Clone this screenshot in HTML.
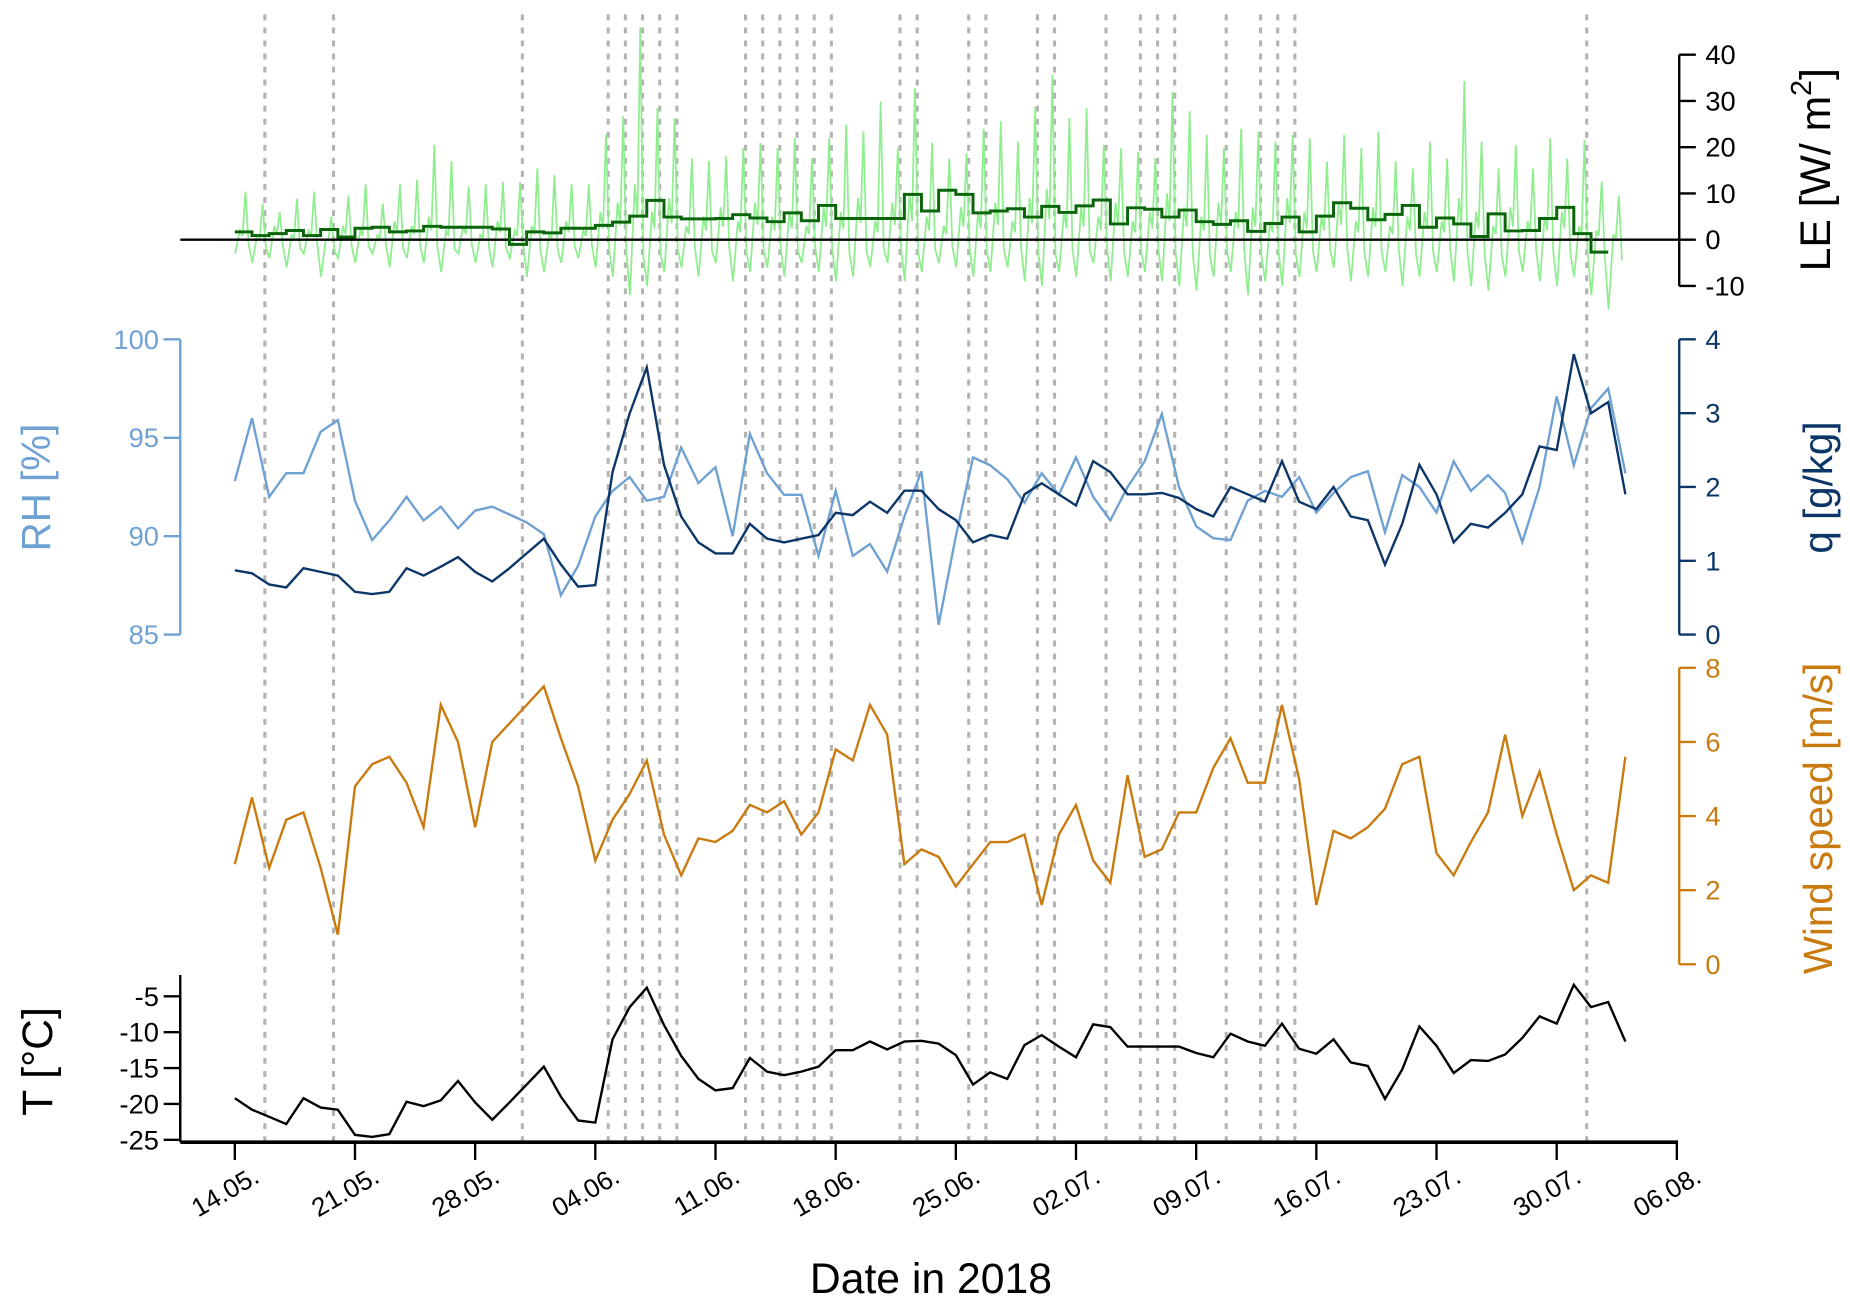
<!DOCTYPE html>
<html><head><meta charset="utf-8">
<style>
html,body{margin:0;padding:0;background:#fff;}
svg{display:block;font-family:"Liberation Sans",Arial,sans-serif;}
</style></head>
<body>
<svg id="chart" width="1850" height="1306" viewBox="0 0 1560 1101" xmlns="http://www.w3.org/2000/svg">
<g id="events"></g>
<g id="lePanel"></g>
<g id="rhPanel"></g>
<g id="wsPanel"></g>
<g id="tPanel"></g>
<g id="xAxis"></g>
<text x="785" y="1090" font-size="36" text-anchor="middle">Date in 2018</text>
<text transform="translate(1543,143) rotate(-90)" font-size="36" text-anchor="middle">LE [W/ m<tspan dy="-16" font-size="24">2</tspan><tspan dy="16">]</tspan></text>
<text transform="translate(42,411) rotate(-90)" font-size="34" fill="#6fa1d3" text-anchor="middle">RH [%]</text>
<text transform="translate(1545,411) rotate(-90)" font-size="34" fill="#0c3668" text-anchor="middle">q [g/kg]</text>
<text transform="translate(1545,690) rotate(-90)" font-size="34" fill="#c97b10" text-anchor="middle">Wind speed [m/s]</text>
<text transform="translate(44,895) rotate(-90)" font-size="36" text-anchor="middle">T [°C]</text>
</svg>
<script>
const dateLabels=["14.05.","21.05.","28.05.","04.06.","11.06.","18.06.","25.06.","02.07.","09.07.","16.07.","23.07.","30.07.","06.08."];
const eventDays=[2,6,17,22,23,24,25,26,30,31,32,33,34,35,39,40,43,44,47,48,51,53,54,55,58,60,61,62,79];
const rh=[92.8,96,92,93.2,93.2,95.3,95.9,91.8,89.8,90.8,92,90.8,91.5,90.4,91.3,91.5,91.1,90.7,90.1,87,88.5,91,92.3,93,91.8,92,94.5,92.7,93.5,90,95.2,93.2,92.1,92.1,89,92.3,89,89.6,88.2,91,93.3,85.5,90,94,93.6,92.9,91.7,93.2,92.1,94,92,90.8,92.5,93.8,96.2,92.5,90.5,89.9,89.8,91.8,92.3,92,93,91.2,92.2,93,93.3,90.2,93.1,92.5,91.2,93.8,92.3,93.1,92.2,89.7,92.5,97.1,93.6,96.5,97.5,93.2];
const q=[0.87,0.83,0.68,0.64,0.9,0.85,0.8,0.58,0.55,0.58,0.9,0.8,0.92,1.05,0.85,0.72,0.9,1.1,1.3,0.95,0.65,0.67,2.2,3.0,3.62,2.3,1.6,1.25,1.1,1.1,1.5,1.3,1.25,1.3,1.35,1.65,1.62,1.8,1.65,1.95,1.95,1.7,1.55,1.25,1.35,1.3,1.9,2.05,1.9,1.75,2.35,2.2,1.9,1.9,1.92,1.85,1.7,1.6,2.0,1.9,1.8,2.35,1.8,1.7,2.0,1.6,1.55,0.95,1.5,2.3,1.9,1.25,1.5,1.45,1.65,1.9,2.55,2.5,3.8,3.0,3.15,1.9];
const wind=[2.7,4.5,2.6,3.9,4.1,2.6,0.8,4.8,5.4,5.6,4.9,3.7,7.0,6.0,3.7,6.0,6.5,7.0,7.5,6.1,4.8,2.8,3.9,4.6,5.5,3.5,2.4,3.4,3.3,3.6,4.3,4.1,4.4,3.5,4.1,5.8,5.5,7.0,6.2,2.7,3.1,2.9,2.1,2.7,3.3,3.3,3.5,1.6,3.5,4.3,2.8,2.2,5.1,2.9,3.1,4.1,4.1,5.3,6.1,4.9,4.9,7.0,5.0,1.6,3.6,3.4,3.7,4.2,5.4,5.6,3.0,2.4,3.3,4.1,6.2,4.0,5.2,3.5,2.0,2.4,2.2,5.6];
const temp=[-19.2,-20.8,-21.8,-22.8,-19.2,-20.5,-20.8,-24.3,-24.6,-24.2,-19.7,-20.3,-19.5,-16.8,-19.8,-22.2,-19.8,-17.3,-14.8,-19,-22.3,-22.6,-11,-6.5,-3.8,-9,-13.3,-16.5,-18.1,-17.8,-13.6,-15.5,-16,-15.5,-14.8,-12.5,-12.5,-11.3,-12.4,-11.3,-11.2,-11.6,-13.2,-17.3,-15.6,-16.5,-11.8,-10.4,-12,-13.5,-8.9,-9.3,-12,-12,-12,-12,-12.9,-13.5,-10.2,-11.3,-11.9,-8.8,-12.3,-13,-11,-14.2,-14.7,-19.3,-15.2,-9.2,-11.9,-15.7,-13.9,-14,-13.1,-10.8,-7.8,-8.8,-3.4,-6.5,-5.8,-11.3];
const leDaily=[1.7,0.9,1.3,2,0.9,2.2,0.6,2.5,2.7,1.7,1.9,2.9,2.7,2.7,2.7,2.3,-1,1.7,1.5,2.5,2.5,3.1,3.8,5.1,8.5,4.9,4.5,4.5,4.6,5.4,4.7,3.9,5.8,4.1,7.4,4.6,4.6,4.6,4.6,9.8,6.2,10.7,9.8,5.8,6.2,6.7,4.9,7.2,5.9,7.3,8.6,3.4,6.9,6.6,4.9,6.4,3.9,3.3,4.1,1.8,3.5,4.9,1.7,5.1,8,6.8,4.3,5.5,7.4,2.7,4.7,3.4,0.7,5.6,1.9,2,4.6,7,1.3,-2.7];
const lePeak=[10.4,7.8,6,8.9,10.4,5,9.6,12,7.8,12,13,20.5,17,11.5,12,12.5,12.5,15.4,14,12,12,22.7,26.7,45.9,28.5,26.3,17.6,17,18,19.8,20.9,19.8,22,17.6,22,24.9,23.4,29.9,19.8,32.8,21,17.6,18.7,24,25.6,21.2,28.8,35.7,26.3,28.5,20.5,19.8,19,17.6,32,27.8,22.7,19.8,24,23.4,21.2,22.7,22,16.9,22.7,19.8,23.4,16.9,15.4,21.2,17.6,34.3,21.2,15.4,20.5,15.4,22,17.6,21.6,12.5,9.6];
const leMid=[2,1,3,1,2,0,3,2,1,4,3,5,2,3,1,4,2,3,1,4,2,6,8,12,6,9,3,5,7,4,8,5,6,3,7,6,9,4,8,10,5,3,7,6,8,4,9,11,6,7,5,8,4,6,10,7,5,8,6,7,4,9,6,5,8,4,7,3,5,6,4,9,6,3,7,4,5,6,3,2,1];
const leTrough=[-3,-5,-4,-6,-3,-8,-4,-5,-3,-6,-4,-5,-7,-3,-5,-6,-4,-8,-7,-5,-4,-6,-8,-12,-10,-7,-6,-8,-5,-9,-7,-6,-8,-5,-7,-9,-8,-6,-5,-9,-7,-5,-6,-8,-7,-6,-9,-10,-7,-8,-5,-9,-8,-7,-9,-10,-11,-8,-7,-12,-9,-10,-8,-7,-6,-9,-8,-7,-10,-8,-7,-9,-10,-11,-8,-7,-9,-10,-8,-12,-15];

const NS='http://www.w3.org/2000/svg';
const X0=198, DAY=(1414-198)/84;
const xOf=d=>X0+d*DAY;
const yLE=v=>202-v*3.9;
const yRH=v=>535-(v-85)*(249/15);
const yQ=v=>535-v*(249/4);
const yW=v=>813-v*(250/8);
const yT=v=>961+(v+25)*(-121/20);
function el(tag,attrs,parent){const e=document.createElementNS(NS,tag);for(const k in attrs)e.setAttribute(k,attrs[k]);parent.appendChild(e);return e;}
function pts(arr,yf,off){return arr.map((v,i)=>xOf(i+(off||0)).toFixed(1)+','+yf(v).toFixed(1)).join(' ');}

// events
const ev=document.getElementById('events');
eventDays.forEach(d=>{
  const l=el('line',{x1:xOf(d-0.25),x2:xOf(d-0.25),y1:12,y2:963,stroke:'#b3b3b3','stroke-width':2.6,'stroke-dasharray':'5 6'},ev);
  
  
});

// LE panel
const le=document.getElementById('lePanel');
let lp=[];
for(let i=0;i<lePeak.length;i++){
  lp.push(xOf(i+0.02).toFixed(1)+','+yLE(leTrough[i]).toFixed(1));
  lp.push(xOf(i+0.3).toFixed(1)+','+yLE(leMid[i]).toFixed(1));
  lp.push(xOf(i+0.45).toFixed(1)+','+yLE(leMid[i]*0.4).toFixed(1));
  lp.push(xOf(i+0.62).toFixed(1)+','+yLE(lePeak[i]).toFixed(1));
  lp.push(xOf(i+0.8).toFixed(1)+','+yLE(leTrough[i]*0.3).toFixed(1));
}
const leLine=el('polyline',{points:lp.join(' '),fill:'none',stroke:'#90ee90','stroke-width':1.5},le);


const zl=el('line',{x1:152,x2:1416,y1:yLE(0),y2:yLE(0),stroke:'#000','stroke-width':2},le);


let sp=[];
leDaily.forEach((v,i)=>{sp.push(xOf(i).toFixed(1)+','+yLE(v).toFixed(1));sp.push(xOf(i+1).toFixed(1)+','+yLE(v).toFixed(1));});
const step=el('polyline',{points:sp.join(' '),fill:'none',stroke:'#0a640a','stroke-width':2.5},le);



function axis(parent,x,ticks,yf,color,side,name){
  const g=el('g',{},parent);
  
  
  el('line',{x1:x,x2:x,y1:yf(ticks[0]),y2:yf(ticks[ticks.length-1]),stroke:color,'stroke-width':2},g);
  ticks.forEach(t=>{
    const dx=side==='right'?14:-14;
    el('line',{x1:x,x2:x+dx,y1:yf(t),y2:yf(t),stroke:color,'stroke-width':2},g);
    const tx=el('text',{x:side==='right'?x+22:x-18,y:yf(t)+8,'font-size':23,fill:color,'text-anchor':side==='right'?'start':'end'},g);
    tx.textContent=String(t);
  });
}
axis(le,1416,[-10,0,10,20,30,40],yLE,'#000','right','le-axis');

// RH & q
const rp=document.getElementById('rhPanel');
axis(rp,152,[85,90,95,100],yRH,'#6fa1d3','left','rh-axis');
axis(rp,1416,[0,1,2,3,4],yQ,'#0c3668','right','q-axis');
const rhL=el('polyline',{points:pts(rh,yRH),fill:'none',stroke:'#6fa1d3','stroke-width':2},rp);


const qL=el('polyline',{points:pts(q,yQ),fill:'none',stroke:'#0c3668','stroke-width':2},rp);



// wind
const wp=document.getElementById('wsPanel');
axis(wp,1416,[0,2,4,6,8],yW,'#c97b10','right','wind-axis');
const wL=el('polyline',{points:pts(wind,yW),fill:'none',stroke:'#c97b10','stroke-width':2},wp);



// temperature
const tp=document.getElementById('tPanel');
axis(tp,152,[-25,-20,-15,-10,-5],yT,'#000','left','t-axis');
el('line',{x1:152,x2:152,y1:822,y2:963,stroke:'#000','stroke-width':2},tp);
const tL=el('polyline',{points:pts(temp,yT),fill:'none',stroke:'#000','stroke-width':2},tp);



// x axis
const xa=document.getElementById('xAxis');
el('line',{x1:152,x2:1415,y1:963,y2:963,stroke:'#000','stroke-width':3},xa);
dateLabels.forEach((lab,i)=>{
  const x=xOf(i*7);
  el('line',{x1:x,x2:x,y1:963,y2:978,stroke:'#000','stroke-width':2},xa);
  const t=el('text',{transform:`translate(${x+22},${996}) rotate(-30)`,'font-size':22,'text-anchor':'end'},xa);
  
  
  t.textContent=lab;
});
</script>
</body></html>
